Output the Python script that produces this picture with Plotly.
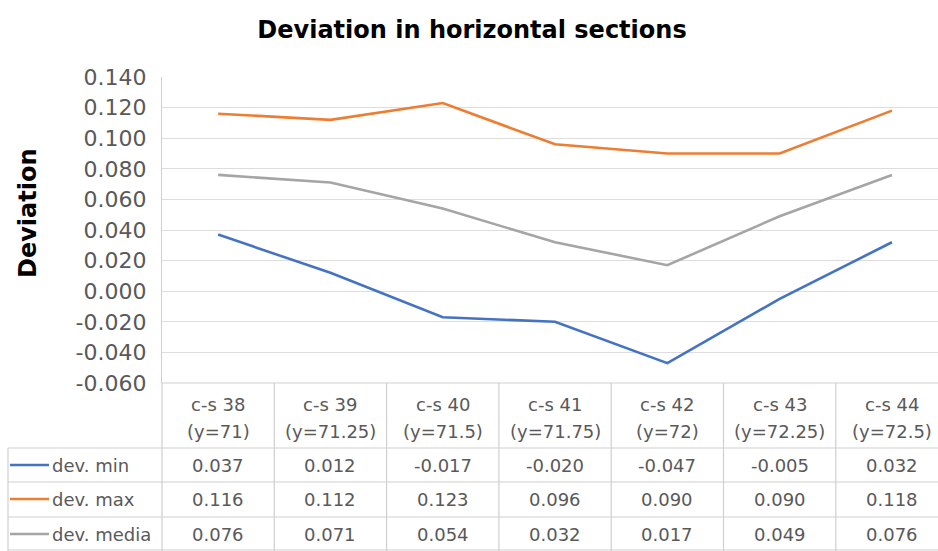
import plotly.graph_objects as go

# Cross-sections along the horizontal profile
sections = ["c-s 38", "c-s 39", "c-s 40", "c-s 41", "c-s 42", "c-s 43", "c-s 44"]
y_levels = ["71", "71.25", "71.5", "71.75", "72", "72.25", "72.5"]

# Deviation statistics per section
dev_min = [0.037, 0.012, -0.017, -0.020, -0.047, -0.005, 0.032]
dev_max = [0.116, 0.112, 0.123, 0.096, 0.090, 0.090, 0.118]
dev_media = [0.076, 0.071, 0.054, 0.032, 0.017, 0.049, 0.076]

series_names = ["dev. min", "dev. max", "dev. media"]
series_values = [dev_min, dev_max, dev_media]
series_colors = ["#4472C4", "#ED7D31", "#A5A5A5"]

y_ticks = [-0.06, -0.04, -0.02, 0.0, 0.02, 0.04, 0.06, 0.08, 0.10, 0.12, 0.14]
y_tick_text = ["-0.060", "-0.040", "-0.020", "0.000", "0.020", "0.040",
               "0.060", "0.080", "0.100", "0.120", "0.140"]

W, H = 938, 551
M_L, M_R, M_T, M_B = 162, 0, 77, 168
PLOT_H = H - M_T - M_B
PLOT_W = W - M_L - M_R

FONT = "DejaVu Sans"
TXT = "#595959"
BORDER = "#CFCFCF"
CELL_SIZE = 18


def py(px_y):
    """Pixel row -> paper y."""
    return (H - M_B - px_y) / PLOT_H


def px(px_x):
    """Pixel column -> paper x."""
    return (px_x - M_L) / PLOT_W


idx = list(range(len(sections)))
fig = go.Figure()
for name, vals, col in zip(series_names, series_values, series_colors):
    fig.add_trace(go.Scatter(x=idx, y=vals, mode="lines", name=name,
                             line=dict(color=col, width=2.6)))

shapes = []
annotations = []

# Data table: horizontal rules
row_lines = [383, 448, 482, 517, 550]
for i, yy in enumerate(row_lines):
    if i == 0:
        shapes.append(dict(type="line", xref="x", yref="paper", x0=-0.5, x1=len(sections) - 0.5,
                           y0=py(yy), y1=py(yy), line=dict(color=BORDER, width=1.2)))
    else:
        shapes.append(dict(type="line", xref="paper", yref="paper", x0=px(8), x1=1.0,
                           y0=py(yy), y1=py(yy), line=dict(color=BORDER, width=1.2)))

# Data table: vertical rules at section boundaries
for k in range(len(sections)):
    xb = k + 0.5
    shapes.append(dict(type="line", xref="x", yref="paper", x0=xb, x1=xb,
                       y0=py(383), y1=py(551), line=dict(color=BORDER, width=1.2)))
shapes.append(dict(type="line", xref="paper", yref="paper", x0=0, x1=0,
                   y0=py(383), y1=py(551), line=dict(color=BORDER, width=1.2)))
shapes.append(dict(type="line", xref="paper", yref="paper", x0=px(8), x1=px(8),
                   y0=py(448), y1=py(551), line=dict(color=BORDER, width=1.2)))

# Header cells
for k, (s, yl) in enumerate(zip(sections, y_levels)):
    annotations.append(dict(x=k, y=py(404), xref="x", yref="paper", text=s, showarrow=False,
                            font=dict(family=FONT, size=CELL_SIZE, color=TXT),
                            xanchor="center", yanchor="middle"))
    annotations.append(dict(x=k, y=py(432), xref="x", yref="paper", text=f"(y={yl})", showarrow=False,
                            font=dict(family=FONT, size=CELL_SIZE, color=TXT),
                            xanchor="center", yanchor="middle"))

# Value rows with legend keys
row_centers = [465, 499, 534]
for rc, name, vals, col in zip(row_centers, series_names, series_values, series_colors):
    shapes.append(dict(type="line", xref="paper", yref="paper", x0=px(10), x1=px(49),
                       y0=py(rc), y1=py(rc), line=dict(color=col, width=2.6)))
    annotations.append(dict(x=px(50), y=py(rc), xref="paper", yref="paper", text=name, showarrow=False,
                            font=dict(family=FONT, size=CELL_SIZE, color=TXT),
                            xanchor="left", yanchor="middle"))
    for k, v in enumerate(vals):
        annotations.append(dict(x=k, y=py(rc), xref="x", yref="paper", text=f"{v:.3f}", showarrow=False,
                                font=dict(family=FONT, size=CELL_SIZE, color=TXT),
                                xanchor="center", yanchor="middle"))

# Vertical axis title
annotations.append(dict(x=px(28), y=py(213), xref="paper", yref="paper", text="<b>Deviation</b>",
                        textangle=-90, showarrow=False, font=dict(family=FONT, size=24, color="#000000"),
                        xanchor="center", yanchor="middle"))

fig.update_layout(
    width=W, height=H,
    margin=dict(l=M_L, r=M_R, t=M_T, b=M_B),
    paper_bgcolor="white", plot_bgcolor="white",
    showlegend=False,
    title=dict(text="<b>Deviation in horizontal sections</b>", x=472 / W, xref="container",
               y=1 - 30 / H, yref="container", xanchor="center", yanchor="middle",
               font=dict(family=FONT, size=24, color="#000000")),
    shapes=shapes,
    annotations=annotations,
)
fig.update_xaxes(range=[-0.5, -0.5 + PLOT_W / 112.3], showticklabels=False, showgrid=False,
                 zeroline=False, showline=False, ticks="")
fig.update_yaxes(range=[-0.06, 0.14], tickvals=y_ticks, ticktext=y_tick_text,
                 showgrid=True, gridcolor="#DDDDDD", gridwidth=1.2, zeroline=False,
                 showline=True, linecolor=BORDER, linewidth=1.2, ticks="",
                 ticklabelstandoff=10,
                 tickfont=dict(family=FONT, size=22, color=TXT))

fig.write_html("out.html")
